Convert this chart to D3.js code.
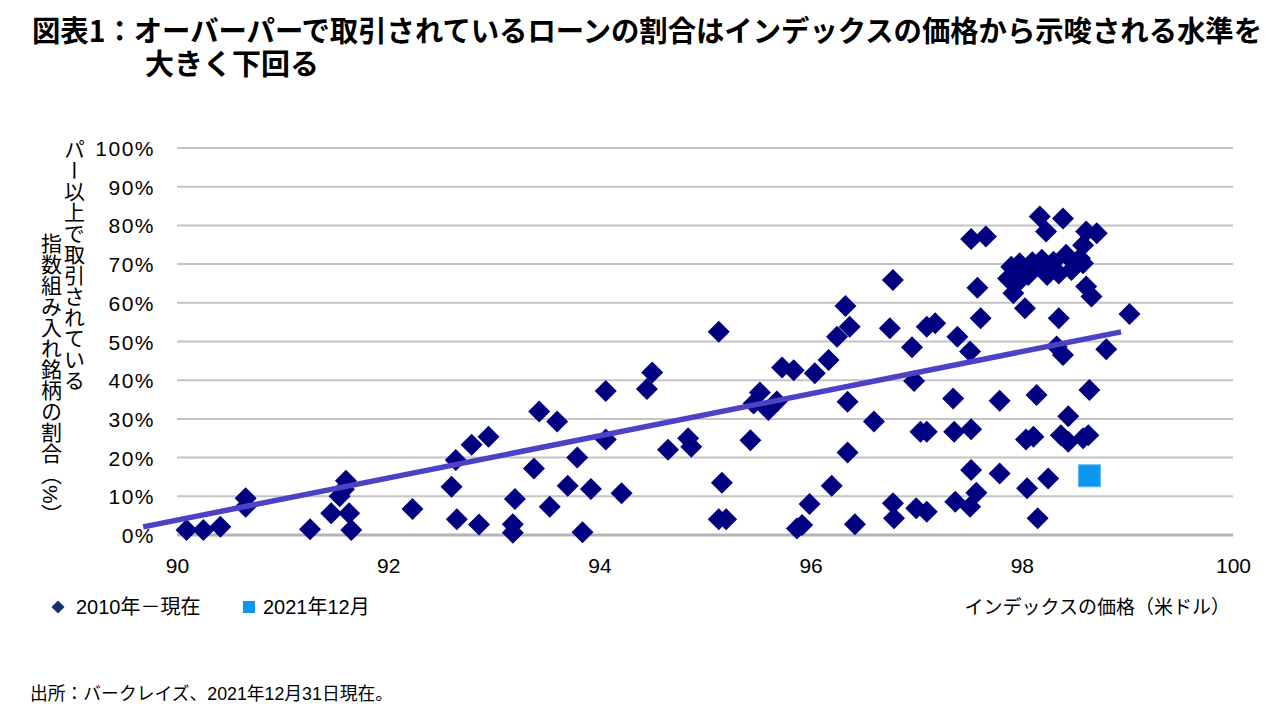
<!DOCTYPE html>
<html>
<head>
<meta charset="utf-8">
<script src="https://cdn.jsdelivr.net/npm/d3@7"></script>
<style>
    html, body { margin: 0; padding: 0; background: #fff; }
    svg { display: block; }
    .jp { font-family: "Liberation Sans", "Noto Sans CJK JP", sans-serif; fill: #000; }
    .vert { writing-mode: vertical-rl; }
</style>
</head>
<body>
<div class="chart"></div>
<script>

//////////
// DATA //
//////////

// index price (USD) for each month since 2010
var price = [
    90.09, 90.25, 90.41, 90.65, 90.65, 91.26, 91.46, 91.54, 91.60, 91.58,
    91.63, 91.65, 92.23, 92.60, 92.64, 92.79, 92.65, 92.86, 92.95, 93.20,
    93.18, 93.18, 93.43, 93.60, 93.38, 93.53, 93.70, 93.79, 93.92, 93.84,
    94.06, 94.06, 94.21, 94.45, 94.50, 94.65, 94.84, 94.87, 95.13, 95.16,
    95.13, 95.20, 95.43, 95.46, 95.52, 95.60, 95.68, 95.73, 95.84, 96.04,
    96.17, 96.25, 96.33, 96.37, 96.35, 96.60, 96.35, 96.20, 95.99, 95.92,
    95.87, 96.42, 96.78, 96.75, 96.96, 96.98, 97.10, 97.18, 97.39, 97.51,
    97.52, 97.66, 97.58, 97.61, 97.35, 97.04, 97.10, 97.36, 97.52, 97.79,
    98.14, 98.64, 98.44, 98.04, 98.11, 98.37, 98.44, 98.58, 98.63, 97.52,
    97.79, 98.25, 98.05, 97.57, 97.51, 97.37, 96.78, 96.79, 97.00, 97.10,
    98.15, 99.02, 98.80, 98.39, 98.33, 98.35, 98.03, 98.61, 98.66, 98.17,
    98.23, 98.39, 98.61, 98.71, 98.58, 97.90, 97.98, 97.87, 97.97, 97.92,
    98.06, 98.13, 98.19, 98.24, 98.30, 98.35, 98.42, 98.47, 98.55, 98.58,
    98.00, 98.10, 98.28
];

// share of index loans trading at or above par (%)
var share = [
    1.3, 1.3, 2.1, 9.5, 7.3, 1.5, 5.6, 10.0, 14.0, 11.8,
    5.6, 1.3, 6.7, 12.5, 19.4, 23.3, 4.1, 2.7, 25.4, 9.3,
    2.8, 0.6, 31.9, 29.3, 17.2, 7.3, 12.7, 20.0, 11.9, 0.7,
    37.2, 24.7, 10.8, 37.7, 42.0, 22.0, 25.0, 22.8, 52.5, 13.5,
    4.1, 4.1, 24.5, 34.0, 36.8, 32.3, 34.5, 43.3, 42.6, 41.8,
    45.2, 51.2, 59.2, 53.8, 34.4, 29.3, 21.3, 12.7, 8.0, 2.6,
    1.7, 2.8, 65.9, 53.4, 48.5, 39.8, 53.8, 54.7, 51.2, 47.4,
    76.5, 77.1, 63.9, 56.0, 35.3, 26.7, 26.7, 26.7, 27.3, 34.7,
    36.2, 37.5, 30.7, 24.7, 25.4, 25.8, 24.1, 25.0, 25.8, 16.8,
    15.9, 14.6, 12.1, 10.9, 7.3, 8.6, 8.2, 4.3, 6.9, 6.0,
    4.3, 57.1, 48.0, 46.5, 48.7, 56.0, 58.6, 64.2, 61.6, 82.3,
    78.4, 81.8, 78.4, 78.0, 74.9, 69.3, 70.2, 66.3, 65.5, 62.5,
    67.2, 69.3, 71.1, 67.2, 70.6, 67.6, 72.4, 68.5, 71.5, 70.2,
    68.0, 70.5, 69.0
];

// December 2021 point
var dec2021 = [98.64, 15.3];

// linear trend endpoints [price, share]
var trendStart = [89.68, 2.1],
    trendEnd = [98.94, 52.5];

var xTicks = [90, 92, 94, 96, 98, 100],
    yTicks = [0, 10, 20, 30, 40, 50, 60, 70, 80, 90, 100];

var titleLines = [
    '図表1：オーバーパーで取引されているローンの割合はインデックスの価格から示唆される水準を',
    '大きく下回る'
];
var yTitleLines = ['パー以上で取引されている', '指数組み入れ銘柄の割合（%）'];
var legendLabels = ['2010年－現在', '2021年12月'];
var xTitle = 'インデックスの価格（米ドル）';
var sourceText = '出所：バークレイズ、2021年12月31日現在。';

//////////////////
// CREATING SVG //
//////////////////

var w = 1280,
    h = 720;

var svg = d3.select('.chart')
    .append('svg')
    .attr('width', w)
    .attr('height', h);

var navy = '#000080',
    blue = '#0c96f0';

////////////
// SCALES //
////////////

var xScale = d3.scaleLinear()
    .domain([90, 100])
    .range([177, 1233]);

var yScale = d3.scaleLinear()
    .domain([0, 100])
    .range([535, 148]);

// rotated square marker
var diamond = {
    draw: function(context, size) {
        var r = Math.sqrt(size) / 2;
        context.moveTo(0, -r);
        context.lineTo(r, 0);
        context.lineTo(0, r);
        context.lineTo(-r, 0);
        context.closePath();
    }
};

///////////
// TITLE //
///////////

svg.append('text')
    .attr('class', 'jp')
    .attr('x', 32)
    .attr('y', 42)
    .attr('textLength', 1230)
    .attr('lengthAdjust', 'spacingAndGlyphs')
    .style('font-family', '"Noto Sans CJK JP", sans-serif')
    .style('font-weight', 700)
    .style('font-size', '29px')
    .text(titleLines[0]);

svg.append('text')
    .attr('class', 'jp')
    .attr('x', 145)
    .attr('y', 75)
    .style('font-family', '"Noto Sans CJK JP", sans-serif')
    .style('font-weight', 700)
    .style('font-size', '29px')
    .text(titleLines[1]);

//////////
// GRID //
//////////

svg.append('g')
    .selectAll('line')
    .data(yTicks)
    .enter()
    .append('line')
    .attr('x1', xScale(90))
    .attr('x2', xScale(100))
    .attr('y1', function(d) { return yScale(d); })
    .attr('y2', function(d) { return yScale(d); })
    .attr('stroke', function(d) { return d === 0 ? '#b4b4b4' : '#c4c4c4'; })
    .attr('stroke-width', function(d) { return d === 0 ? 3 : 2; });

//////////
// AXIS //
//////////

var yAxis = d3.axisLeft(yScale)
    .tickValues(yTicks)
    .tickSize(0)
    .tickPadding(0)
    .tickFormat(function(d) { return d + '%'; });

var yAxisG = svg.append('g')
    .attr('transform', 'translate(155,0)')
    .call(yAxis);

yAxisG.select('.domain').remove();
yAxisG.selectAll('text')
    .attr('dy', '0.36em')
    .style('font-family', '"Liberation Sans", sans-serif')
    .style('font-size', '21px')
    .style('letter-spacing', '1.5px')
    .attr('fill', '#000');

var xAxis = d3.axisBottom(xScale)
    .tickValues(xTicks)
    .tickSize(0)
    .tickPadding(0);

var xAxisG = svg.append('g')
    .attr('transform', 'translate(0,558)')
    .call(xAxis);

xAxisG.select('.domain').remove();
xAxisG.selectAll('text')
    .attr('dy', '0.71em')
    .style('font-family', '"Liberation Sans", sans-serif')
    .style('font-size', '21px')
    .attr('fill', '#000');

//////////////////
// AXIS TITLES  //
//////////////////

svg.selectAll('.ytitle')
    .data(yTitleLines)
    .enter()
    .append('text')
    .attr('class', 'jp vert ytitle')
    .attr('x', function(d, i) { return i === 0 ? 73 : 50; })
    .attr('y', function(d, i) { return i === 0 ? 139 : 233; })
    .style('font-size', '21px')
    .text(function(d) { return d; });

svg.append('text')
    .attr('class', 'jp')
    .attr('x', 1230)
    .attr('y', 614)
    .attr('text-anchor', 'end')
    .style('font-size', '19px')
    .text(xTitle);

////////////
// POINTS //
////////////

var points = d3.zip(price, share);

svg.append('g')
    .selectAll('path')
    .data(points)
    .enter()
    .append('path')
    .attr('transform', function(d) {
        return 'translate(' + xScale(d[0]) + ',' + yScale(d[1]) + ')';
    })
    .attr('d', d3.symbol().type(diamond).size(22 * 22))
    .attr('fill', navy);

svg.append('rect')
    .attr('x', xScale(dec2021[0]) - 11)
    .attr('y', yScale(dec2021[1]) - 11)
    .attr('width', 22)
    .attr('height', 22)
    .attr('fill', blue)
    .attr('stroke', '#5fb6f2')
    .attr('stroke-width', 1);

///////////
// TREND //
///////////

svg.append('path')
    .datum([trendStart, trendEnd])
    .attr('d', d3.line()
        .x(function(d) { return xScale(d[0]); })
        .y(function(d) { return yScale(d[1]); }))
    .attr('fill', 'none')
    .attr('stroke', '#4d42c6')
    .attr('stroke-width', 5.5);

////////////
// LEGEND //
////////////

svg.append('path')
    .attr('transform', 'translate(58,607)')
    .attr('d', d3.symbol().type(diamond).size(13 * 13))
    .attr('fill', '#14306e');

svg.append('rect')
    .attr('x', 243)
    .attr('y', 601)
    .attr('width', 12)
    .attr('height', 12)
    .attr('fill', blue);

svg.selectAll('.legend-label')
    .data(legendLabels)
    .enter()
    .append('text')
    .attr('class', 'jp legend-label')
    .attr('x', function(d, i) { return i === 0 ? 76 : 263; })
    .attr('y', 614)
    .style('font-size', '20px')
    .text(function(d) { return d; });

////////////
// SOURCE //
////////////

svg.append('text')
    .attr('class', 'jp')
    .attr('x', 30)
    .attr('y', 700)
    .attr('textLength', 363)
    .attr('lengthAdjust', 'spacingAndGlyphs')
    .style('font-size', '18px')
    .text(sourceText);

</script>
</body>
</html>
